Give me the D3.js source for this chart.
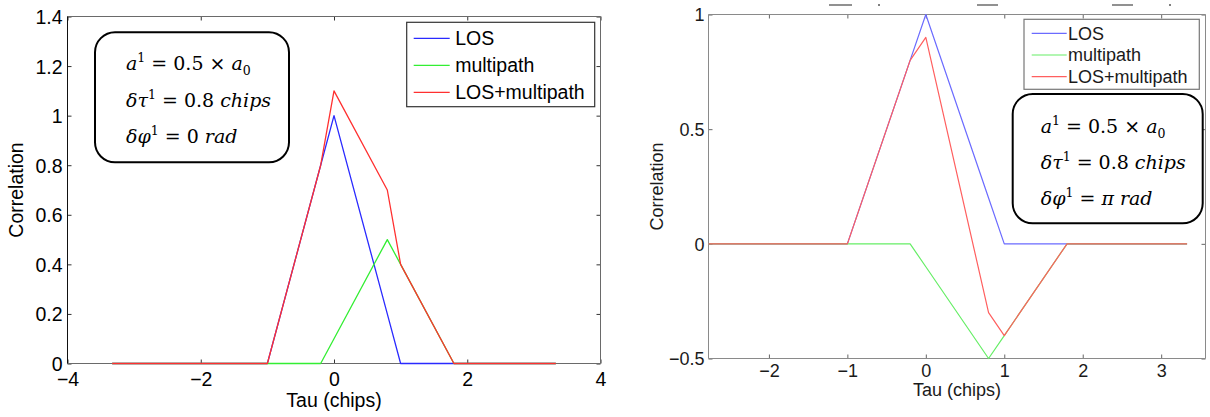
<!DOCTYPE html>
<html>
<head>
<meta charset="utf-8">
<script src="https://cdn.jsdelivr.net/npm/d3@7"></script>
<style>
html,body{margin:0;padding:0;background:#fff;}
svg{display:block;}
</style>
</head>
<body>
<svg id="chart" width="1210" height="417"></svg>
<script>
// ---------- data ----------
const tau = [-3.33, -1, -0.2, 0, 0.8, 1, 1.8, 3.33];
// left panel: delta phi = 0 rad
const losLeft = [0, 0, 0.8, 1, 0.2, 0, 0, 0];
const multipathLeft = [0, 0, 0, 0.1, 0.5, 0.4, 0, 0];
const sumLeft = [0, 0, 0.8, 1.1, 0.7, 0.4, 0, 0];
// right panel: delta phi = pi rad
const losRight = [0, 0, 0.8, 1, 0.2, 0, 0, 0];
const multipathRight = [0, 0, 0, -0.1, -0.5, -0.4, 0, 0];
const sumRight = [0, 0, 0.8, 0.9, -0.3, -0.4, 0, 0];

const seriesNames = ["LOS", "multipath", "LOS+multipath"];
const xTicksLeft = [-4, -2, 0, 2, 4];
const yTicksLeft = [0, 0.2, 0.4, 0.6, 0.8, 1, 1.2, 1.4];
const xTicksRight = [-2, -1, 0, 1, 2, 3];
const yTicksRight = [-0.5, 0, 0.5, 1];
const xLabel = "Tau (chips)";
const yLabel = "Correlation";

const svg = d3.select("#chart");
const SANS = "Liberation Sans, Arial, sans-serif";
const SERIF = "DejaVu Serif, Liberation Serif, serif";

function panel(cfg) {
  const g = svg.append("g");
  const x = d3.scaleLinear().domain(cfg.xDomain).range([cfg.left, cfg.right]);
  const y = d3.scaleLinear().domain(cfg.yDomain).range([cfg.bottom, cfg.top]);
  const clipId = "clip" + cfg.id;
  svg.append("clipPath").attr("id", clipId).append("rect")
    .attr("x", cfg.left).attr("y", cfg.top - 3)
    .attr("width", cfg.right - cfg.left).attr("height", cfg.bottom - cfg.top + 6);

  // axes with inward ticks (mirrored on top/right)
  const tl = cfg.tickLen;
  const axB = d3.axisBottom(x).tickValues(cfg.xTicks).tickSize(-tl).tickPadding(cfg.xPad).tickFormat(d3.format("~g"));
  const axT = d3.axisTop(x).tickValues(cfg.xTicks).tickSize(-tl).tickFormat("");
  const axL = d3.axisLeft(y).tickValues(cfg.yTicks).tickSize(-tl).tickPadding(cfg.yPad).tickFormat(d3.format("~g"));
  const axR = d3.axisRight(y).tickValues(cfg.yTicks).tickSize(-tl).tickFormat("");

  const gB = g.append("g").attr("transform", `translate(0,${cfg.bottom})`).call(axB);
  const gT = g.append("g").attr("transform", `translate(0,${cfg.top})`).call(axT);
  const gL = g.append("g").attr("transform", `translate(${cfg.left},0)`).call(axL);
  const gR = g.append("g").attr("transform", `translate(${cfg.right},0)`).call(axR);
  [gB, gT, gL, gR].forEach(a => {
    a.select(".domain").remove();
    a.selectAll(".tick line").attr("stroke", cfg.tickColor).attr("stroke-width", 1);
    a.selectAll("text").attr("font-family", SANS)
      .attr("font-size", cfg.font).attr("fill", cfg.textColor);
  });
  gL.selectAll(".tick text").attr("dy", "0.36em");

  // box
  const edge = (x1, y1, x2, y2, c) => g.append("line").attr("x1", x1).attr("y1", y1).attr("x2", x2).attr("y2", y2)
    .attr("stroke", c).attr("stroke-width", 1);
  edge(cfg.left, cfg.bottom, cfg.right, cfg.bottom, cfg.boxColor);
  edge(cfg.left, cfg.top, cfg.right, cfg.top, cfg.boxColor);
  edge(cfg.right, cfg.top, cfg.right, cfg.bottom, cfg.boxColor);
  edge(cfg.left, cfg.top, cfg.left, cfg.bottom, cfg.leftAxisColor);

  // data lines (drawn over the axes, as in the reference)
  const colors = cfg.colors;
  const series = [cfg.los, cfg.mp, cfg.sum];
  const lg = g.append("g").attr("clip-path", `url(#${clipId})`);
  series.forEach((vals, i) => {
    const line = d3.line().x((d, j) => x(tau[j])).y(d => y(d));
    lg.append("path").datum(vals).attr("d", line)
      .attr("fill", "none").attr("stroke", colors[i]).attr("stroke-width", cfg.lw)
      .attr("stroke-linejoin", "round");
  });

  // axis labels
  g.append("text").attr("x", (cfg.left + cfg.right) / 2).attr("y", cfg.xLabelY)
    .attr("text-anchor", "middle").attr("font-family", SANS)
    .attr("font-size", cfg.font).attr("fill", cfg.textColor).text(xLabel);
  g.append("text").attr("transform", `translate(${cfg.yLabelX},${(cfg.top + cfg.bottom) / 2}) rotate(-90)`)
    .attr("text-anchor", "middle").attr("font-family", SANS)
    .attr("font-size", cfg.font).attr("fill", cfg.textColor).text(yLabel);

  // legend
  const L = cfg.legend;
  g.append("rect").attr("x", L.x).attr("y", L.y).attr("width", L.w).attr("height", L.h)
    .attr("fill", "#fff").attr("stroke", L.stroke).attr("stroke-width", 1.2);
  seriesNames.forEach((name, i) => {
    const cy = L.y + L.first + i * L.step;
    g.append("line").attr("x1", L.x + L.l1).attr("x2", L.x + L.l2).attr("y1", cy).attr("y2", cy)
      .attr("stroke", colors[i]).attr("stroke-width", cfg.lw);
    g.append("text").attr("x", L.x + L.tx).attr("y", cy).attr("dy", "0.36em")
      .attr("font-family", SANS).attr("font-size", L.font)
      .attr("fill", cfg.textColor).text(name);
  });

  // annotation box
  const A = cfg.anno;
  g.append("rect").attr("x", A.x).attr("y", A.y).attr("width", A.w).attr("height", A.h)
    .attr("rx", 20).attr("ry", 20).attr("fill", "#fff").attr("stroke", "#000").attr("stroke-width", 2);
  A.lines.forEach((segs, i) => {
    const t = g.append("text").attr("x", A.tx).attr("y", A.y + A.base[i])
      .attr("font-family", SERIF).attr("font-size", 19).attr("fill", "#000");
    segs.forEach(s => {
      const sp = t.append("tspan").text(s[0]);
      if (s[1] === "i") sp.attr("font-style", "italic");
      if (s[1] === "sup") sp.attr("font-size", 12.5).attr("dy", -8);
      if (s[1] === "sub") sp.attr("font-size", 12.5).attr("dy", 5);
      if (s[1] === "after") sp.attr("dy", 8);
    });
  });
  return g;
}

const line1 = [["a", "i"], ["1", "sup"], [" = 0.5 \u00D7 ", "after"], ["a", "i"], ["0", "sub"]];
const line2 = [["\u03B4\u03C4", "i"], ["1", "sup"], [" = 0.8 ", "after"], ["chips", "i"]];
const line3L = [["\u03B4\u03C6", "i"], ["1", "sup"], [" = 0 ", "after"], ["rad", "i"]];
const line3R = [["\u03B4\u03C6", "i"], ["1", "sup"], [" = ", "after"], ["\u03C0 rad", "i"]];

panel({
  id: "L", left: 67.5, right: 600.5, top: 16.5, bottom: 363.5,
  xDomain: [-4, 4], yDomain: [0, 1.4], xTicks: xTicksLeft, yTicks: yTicksLeft,
  los: losLeft, mp: multipathLeft, sum: sumLeft,
  colors: ["#2a2aff", "#33ee33", "#ff3030"], lw: 1.3,
  tickLen: 4, xPad: 9, yPad: 5, font: 19.5, textColor: "#000",
  tickColor: "#333", boxColor: "#6a6a6a", leftAxisColor: "#111",
  xLabelY: 407, yLabelX: 23,
  legend: { x: 406.7, y: 22.3, w: 188, h: 84.4, stroke: "#333", first: 16, step: 27,
            l1: 7, l2: 43, tx: 48.5, font: 19.5 },
  anno: { x: 95, y: 32.3, w: 194, h: 130, tx: 126, base: [37.7, 74.4, 111],
          lines: [line1, line2, line3L] }
});

panel({
  id: "R", left: 708.5, right: 1205.5, top: 14.5, bottom: 358.5,
  xDomain: [-2.77, 3.565], yDomain: [-0.5, 1], xTicks: xTicksRight, yTicks: yTicksRight,
  los: losRight, mp: multipathRight, sum: sumRight,
  colors: ["#6b6bff", "#66ee66", "#ff5f5f"], lw: 1.2,
  tickLen: 4, xPad: 6, yPad: 4, font: 18, textColor: "#1a1a1a",
  tickColor: "#666", boxColor: "#8a8a8a", leftAxisColor: "#8a8a8a",
  xLabelY: 396, yLabelX: 663,
  legend: { x: 1024, y: 19.3, w: 175.3, h: 70, stroke: "#777", first: 14, step: 21.7,
            l1: 7.7, l2: 42.7, tx: 44, font: 18 },
  anno: { x: 1012.7, y: 94, w: 190, h: 129.3, tx: 1040.7, base: [39, 75, 111],
          lines: [line1, line2, line3R] }
});

// stray marks left over at the top edge of the right picture
[[829, 852], [977, 998], [1112, 1133], [878, 880], [1169, 1171]].forEach(s => {
  svg.append("line").attr("x1", s[0]).attr("x2", s[1]).attr("y1", 5).attr("y2", 5)
    .attr("stroke", "#555").attr("stroke-width", 1.3);
});
</script>
</body>
</html>
